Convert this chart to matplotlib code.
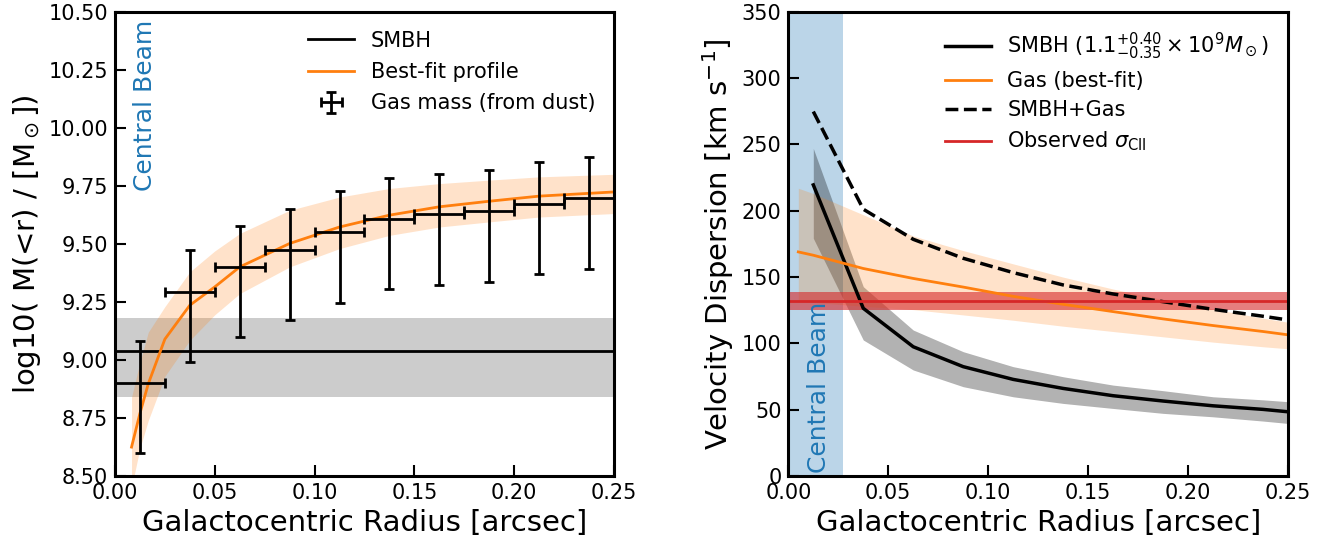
import numpy as np
import matplotlib
matplotlib.use("Agg")
import matplotlib.pyplot as plt

# ---------------- Left panel data ----------------
bin_r = [0.0125, 0.0375, 0.0625, 0.0875, 0.1125, 0.1375, 0.1625, 0.1875, 0.2125, 0.2375]
bin_halfwidth = [0.0125] * 10
gas_mass = [8.90, 9.293, 9.401, 9.473, 9.552, 9.609, 9.627, 9.641, 9.671, 9.696]
gas_err_hi = [0.18, 0.18, 0.177, 0.177, 0.175, 0.177, 0.176, 0.177, 0.18, 0.179]
gas_err_lo = [0.30, 0.302, 0.302, 0.302, 0.305, 0.301, 0.305, 0.305, 0.302, 0.302]

smbh_logm = 9.04
smbh_logm_lo = 8.84
smbh_logm_hi = 9.18

prof_r = [0.0083, 0.0125, 0.0167, 0.025, 0.0375, 0.05, 0.0625, 0.0875, 0.1125, 0.1375, 0.1625, 0.1875, 0.2125, 0.25]
prof_m = [8.625, 8.77, 8.898, 9.09, 9.236, 9.315, 9.401, 9.502, 9.573, 9.624, 9.660, 9.684, 9.706, 9.724]
prof_hi = [8.84, 8.99, 9.12, 9.23, 9.38, 9.47, 9.545, 9.645, 9.702, 9.739, 9.760, 9.775, 9.789, 9.80]
prof_lo = [8.45, 8.62, 8.74, 8.93, 9.085, 9.195, 9.286, 9.401, 9.480, 9.537, 9.573, 9.595, 9.616, 9.631]

# ---------------- Right panel data ----------------
sig_r = [0.0125, 0.0375, 0.0625, 0.0875, 0.1125, 0.1375, 0.1625, 0.1875, 0.2125, 0.2375, 0.25]
sig_smbh = [219.5, 126.5, 97.5, 82.5, 72.9, 66.1, 60.6, 56.6, 53.0, 50.3, 48.5]
sig_smbh_hi = [247.0, 142.8, 110.1, 93.8, 82.5, 74.9, 68.6, 64.4, 59.8, 57.5, 56.1]
sig_smbh_lo = [179.3, 102.6, 80.0, 67.4, 59.8, 54.8, 51.0, 47.3, 44.7, 41.5, 39.7]
sig_total = [274.8, 201.2, 178.5, 164.2, 153.4, 144.1, 137.3, 131.5, 125.7, 120.5, 117.7]

gas_r = [0.005, 0.0125, 0.0375, 0.0625, 0.0875, 0.1125, 0.1375, 0.1625, 0.1875, 0.2125, 0.2375, 0.25]
sig_gas = [169.0, 166.5, 156.5, 149.0, 142.5, 135.5, 129.5, 124.0, 118.5, 113.5, 109.0, 106.5]
sig_gas_hi = [217.0, 213.0, 197.0, 181.0, 170.0, 160.0, 150.0, 141.0, 133.0, 126.0, 119.0, 116.0]
sig_gas_lo = [132.0, 131.0, 128.0, 125.5, 121.5, 117.5, 113.0, 109.0, 105.0, 101.0, 97.5, 96.0]

sig_obs = 132.0
sig_obs_err = 7.0
beam_r = 0.0275

# ---------------- Figure ----------------
fig = plt.figure(figsize=(13.4, 5.46), dpi=100)
axL = fig.add_axes([0.0858, 0.128, 0.3724, 0.8504])
axR = fig.add_axes([0.5883, 0.128, 0.3729, 0.8504])

TICK = 15
LAB = 21
LEG = 15

for ax in (axL, axR):
    for s in ax.spines.values():
        s.set_linewidth(2.2)
    ax.tick_params(direction='in', length=8, width=1.5, labelsize=TICK,
                   top=False, right=False, pad=5)

# Left
axL.axhspan(smbh_logm_lo, smbh_logm_hi, color='k', alpha=0.2, lw=0)
axL.axhline(smbh_logm, color='k', lw=2, label='SMBH')
axL.fill_between(prof_r, prof_lo, prof_hi, color='tab:orange', alpha=0.22, lw=0)
axL.plot(prof_r, prof_m, color='tab:orange', lw=2, label='Best-fit profile')
axL.errorbar(bin_r, gas_mass, yerr=[gas_err_lo, gas_err_hi], xerr=bin_halfwidth,
             fmt='none', ecolor='k', elinewidth=2, capsize=3.5, capthick=2,
             label='Gas mass (from dust)')
axL.text(0.015, 10.465, 'Central Beam', color='tab:blue', rotation=90,
         fontsize=18, ha='center', va='top')
axL.set_xlim(0, 0.25)
axL.set_ylim(8.5, 10.5)
axL.set_xticks(np.arange(0, 0.2501, 0.05))
axL.set_yticks(np.arange(8.5, 10.501, 0.25))
axL.xaxis.set_major_formatter(matplotlib.ticker.FormatStrFormatter('%.2f'))
axL.yaxis.set_major_formatter(matplotlib.ticker.FormatStrFormatter('%.2f'))
axL.set_xlabel('Galactocentric Radius [arcsec]', fontsize=LAB)
axL.set_ylabel(r'log10( M(<r) / [M$_\odot$])', fontsize=LAB)
axL.legend(loc='upper right', frameon=False, fontsize=LEG, handlelength=2.2,
           borderaxespad=0.5, labelspacing=0.55)

# Right
axR.axvspan(0, beam_r, color='tab:blue', alpha=0.3, lw=0)
axR.fill_between(sig_r, sig_smbh_lo, sig_smbh_hi, color='k', alpha=0.3, lw=0)
axR.fill_between(gas_r, sig_gas_lo, sig_gas_hi, color='tab:orange', alpha=0.22, lw=0)
axR.axhspan(sig_obs - sig_obs_err, sig_obs + sig_obs_err, color='tab:red', alpha=0.6, lw=0)
axR.plot(sig_r, sig_smbh, color='k', lw=2.5,
         label=r'SMBH ($1.1^{+0.40}_{-0.35}\times10^9M_\odot$)')
axR.plot(gas_r, sig_gas, color='tab:orange', lw=2, label='Gas (best-fit)')
axR.plot(sig_r, sig_total, color='k', lw=2.5, ls='--', label='SMBH+Gas')
axR.axhline(sig_obs, color='tab:red', lw=2, label=r'Observed $\sigma_{\rm CII}$')
axR.text(0.0155, 2, 'Central Beam', color='tab:blue', rotation=90,
         fontsize=18, ha='center', va='bottom')
axR.set_xlim(0, 0.25)
axR.set_ylim(0, 350)
axR.set_xticks(np.arange(0, 0.2501, 0.05))
axR.set_yticks(np.arange(0, 351, 50))
axR.xaxis.set_major_formatter(matplotlib.ticker.FormatStrFormatter('%.2f'))
axR.set_xlabel('Galactocentric Radius [arcsec]', fontsize=LAB)
axR.set_ylabel(r'Velocity Dispersion [km s$^{-1}$]', fontsize=LAB)
axR.legend(loc='upper right', frameon=False, fontsize=LEG, handlelength=2.2,
           borderaxespad=0.5, labelspacing=0.45)

fig.savefig('out.png', dpi=100)
